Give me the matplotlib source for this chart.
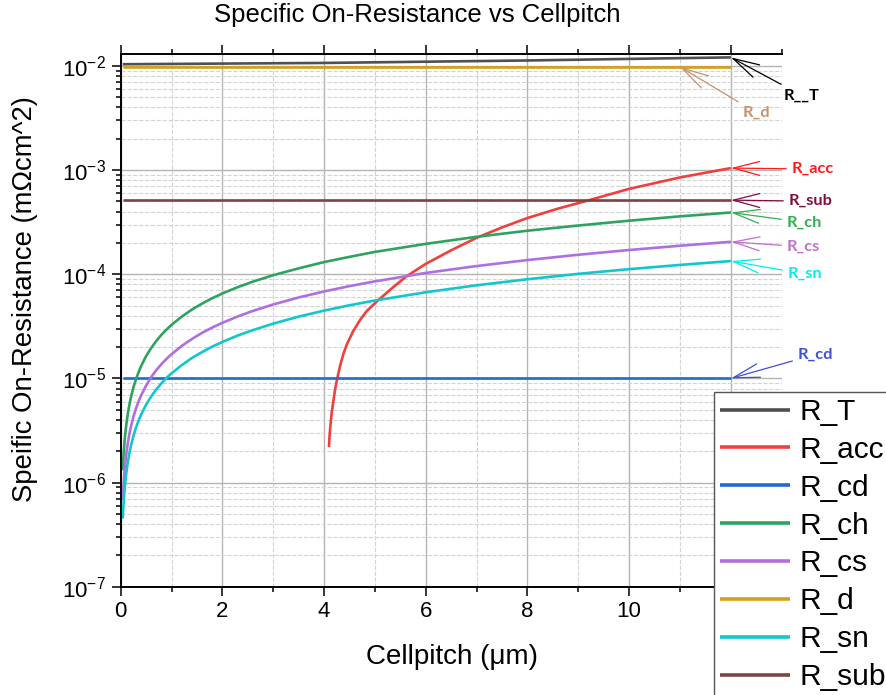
import numpy as np
import matplotlib
matplotlib.use("Agg")
import matplotlib.pyplot as plt
from matplotlib.ticker import MultipleLocator, LogLocator

plt.rcParams['font.family'] = ['Liberation Sans', 'DejaVu Sans']
plt.rcParams['mathtext.fontset'] = 'custom'
plt.rcParams['mathtext.rm'] = 'Liberation Sans'
plt.rcParams['mathtext.default'] = 'regular'

# cell pitch samples (um) and specific on-resistance components (mOhm cm^2)
x_flat = [0.04, 12.0]
R_d = [0.0098, 0.0098]
R_sub = [5.15e-4, 5.15e-4]
R_cd = [1.0e-5, 1.0e-5]

x_T = [0.04, 2, 4, 6, 8, 10, 12]
R_T = [0.0104, 0.01055, 0.0107, 0.0110, 0.0113, 0.0117, 0.0121]

x_lin = [0.04, 0.05, 0.06, 0.07, 0.08, 0.1, 0.12, 0.14, 0.17, 0.2, 0.25, 0.3, 0.35, 0.4,
         0.5, 0.6, 0.7, 0.8, 0.9, 1.0, 1.2, 1.4, 1.6, 1.8, 2.0, 2.3, 2.6, 3.0, 3.5, 4.0,
         4.5, 5, 6, 7, 8, 9, 10, 11, 12]
R_ch = [1.31e-6, 1.64e-6, 1.96e-6, 2.29e-6, 2.62e-6, 3.27e-6, 3.92e-6, 4.58e-6, 5.56e-6,
        6.54e-6, 8.2e-6, 9.8e-6, 1.14e-5, 1.31e-5, 1.64e-5, 1.96e-5, 2.29e-5, 2.62e-5,
        2.94e-5, 3.27e-5, 3.92e-5, 4.58e-5, 5.23e-5, 5.89e-5, 6.54e-5, 7.52e-5, 8.5e-5,
        9.8e-5, 1.14e-4, 1.31e-4, 1.47e-4, 1.64e-4, 1.96e-4, 2.29e-4, 2.62e-4, 2.94e-4,
        3.27e-4, 3.6e-4, 3.92e-4]
R_cs = [6.8e-7, 8.6e-7, 1.03e-6, 1.2e-6, 1.37e-6, 1.71e-6, 2.05e-6, 2.39e-6, 2.91e-6,
        3.42e-6, 4.28e-6, 5.13e-6, 5.99e-6, 6.84e-6, 8.55e-6, 1.03e-5, 1.2e-5, 1.37e-5,
        1.54e-5, 1.71e-5, 2.05e-5, 2.39e-5, 2.74e-5, 3.08e-5, 3.42e-5, 3.93e-5, 4.45e-5,
        5.13e-5, 5.99e-5, 6.84e-5, 7.7e-5, 8.55e-5, 1.03e-4, 1.2e-4, 1.37e-4, 1.54e-4,
        1.71e-4, 1.88e-4, 2.05e-4]
R_sn = [4.5e-7, 5.6e-7, 6.7e-7, 7.8e-7, 9.0e-7, 1.12e-6, 1.34e-6, 1.57e-6, 1.9e-6,
        2.24e-6, 2.8e-6, 3.36e-6, 3.92e-6, 4.48e-6, 5.6e-6, 6.72e-6, 7.84e-6, 8.96e-6,
        1.01e-5, 1.12e-5, 1.34e-5, 1.57e-5, 1.79e-5, 2.02e-5, 2.24e-5, 2.58e-5, 2.91e-5,
        3.36e-5, 3.92e-5, 4.48e-5, 5.04e-5, 5.6e-5, 6.72e-5, 7.84e-5, 8.96e-5, 1.01e-4,
        1.12e-4, 1.23e-4, 1.34e-4]

x_acc = [4.096, 4.106, 4.12, 4.149, 4.214, 4.26, 4.313, 4.378, 4.45, 4.574, 4.706, 4.838,
         5.066, 5.361, 5.62, 6.0, 6.5, 7.0, 7.5, 8.0, 8.6, 9.2, 10.0, 11.0, 12.0]
R_acc = [2.19e-6, 2.73e-6, 3.33e-6, 4.65e-6, 7.73e-6, 1.007e-5, 1.31e-5, 1.71e-5, 2.14e-5,
         2.85e-5, 3.63e-5, 4.43e-5, 5.65e-5, 7.53e-5, 9.55e-5, 1.26e-4, 1.7e-4, 2.24e-4,
         2.82e-4, 3.47e-4, 4.27e-4, 5.13e-4, 6.61e-4, 8.51e-4, 1.047e-3]

series = [
    ('R_T', x_T, R_T, '#505050'),
    ('R_acc', x_acc, R_acc, '#f0403c'),
    ('R_cd', x_flat, R_cd, '#1e6ad8'),
    ('R_ch', x_lin, R_ch, '#2ea35f'),
    ('R_cs', x_lin, R_cs, '#b06fe0'),
    ('R_d', x_flat, R_d, '#d4a017'),
    ('R_sn', x_lin, R_sn, '#10c8cc'),
    ('R_sub', x_flat, R_sub, '#7a4545'),
]

fig = plt.figure(figsize=(8.87, 6.95), dpi=100)
ax = fig.add_axes([120.7 / 887, 1 - 586.7 / 695, (781.7 - 120.7) / 887, (586.7 - 54) / 695])

for name, xs, ys, col in series:
    ax.plot(xs, ys, color=col, lw=1.9, label=name, solid_capstyle='butt')

ax.set_yscale('log')
ax.set_xlim(0, 13)
ax.set_ylim(1e-7, 0.01304)
ax.xaxis.set_major_locator(MultipleLocator(2))
ax.xaxis.set_minor_locator(MultipleLocator(1))
ax.yaxis.set_major_locator(LogLocator(base=10))
ax.yaxis.set_minor_locator(LogLocator(base=10, subs=np.arange(2, 10)))
ax.yaxis.set_minor_formatter(plt.NullFormatter())

ax.set_axisbelow(True)
ax.grid(which='major', color='#b4b4b4', lw=1.0)
ax.grid(which='minor', color='#d2d2d2', lw=0.8, ls='--')

ax.spines['right'].set_visible(False)
for s in ('left', 'bottom', 'top'):
    ax.spines[s].set_linewidth(1.4)
ax.tick_params(which='both', direction='out', top=True, right=False, labeltop=False,
               width=1.1, labelsize=16)
ax.tick_params(which='major', length=6.5, pad=4)
ax.tick_params(which='minor', length=3.6)

fig.text(417.5 / 887, 1 - 15 / 695, 'Specific On-Resistance vs Cellpitch',
         ha='center', va='center', fontsize=18.5)
fig.text(452 / 887, 1 - 657 / 695, 'Cellpitch (\u03bcm)', ha='center', va='center', fontsize=20)
fig.text(25 / 887, 1 - 299 / 695, 'Speific On-Resistance (m\u03a9cm^2)', ha='center', va='center',
         rotation=90, fontsize=19.8)

# labels pointing at the curve ends
notes = [
    ('R__T', x_T[-1], R_T[-1], (53, -38), 'black'),
    ('R_d', 11.0, R_d[-1], (63, -46), '#c89070'),
    ('R_acc', x_acc[-1], R_acc[-1], (61, -1), '#ff1a1a'),
    ('R_sub', x_flat[-1], R_sub[-1], (58, -1), '#800f3f'),
    ('R_ch', x_lin[-1], R_ch[-1], (56, -10), '#30b050'),
    ('R_cs', x_lin[-1], R_cs[-1], (56, -5), '#c070c8'),
    ('R_sn', x_lin[-1], R_sn[-1], (57, -13), '#00eeee'),
    ('R_cd', x_flat[-1], R_cd[-1], (67, 24), '#4050d8'),
]
for txt, xv, yv, off, col in notes:
    ax.annotate(txt, xy=(xv, yv), xytext=off, textcoords='offset pixels',
                ha='left', va='center', fontsize=11.8, fontweight='bold',
                family=['Lato', 'DejaVu Sans'], color=col, annotation_clip=False,
                arrowprops=dict(arrowstyle='->,head_length=1.9,head_width=0.5', color=col,
                                lw=0.9, shrinkA=2, shrinkB=0, mutation_scale=10))

leg = ax.legend(loc='upper left', bbox_to_anchor=(714 / 887, 1 - 392 / 695),
                bbox_transform=fig.transFigure, borderaxespad=0, fontsize=21.5,
                frameon=True, fancybox=False, framealpha=1, edgecolor='#555555',
                handlelength=2.35, handletextpad=0.3, labelspacing=0.33, borderpad=0.2)
leg.get_frame().set_linewidth(1.0)
for h in leg.get_lines():
    h.set_linewidth(2.6)

fig.savefig('out.png', dpi=100)
